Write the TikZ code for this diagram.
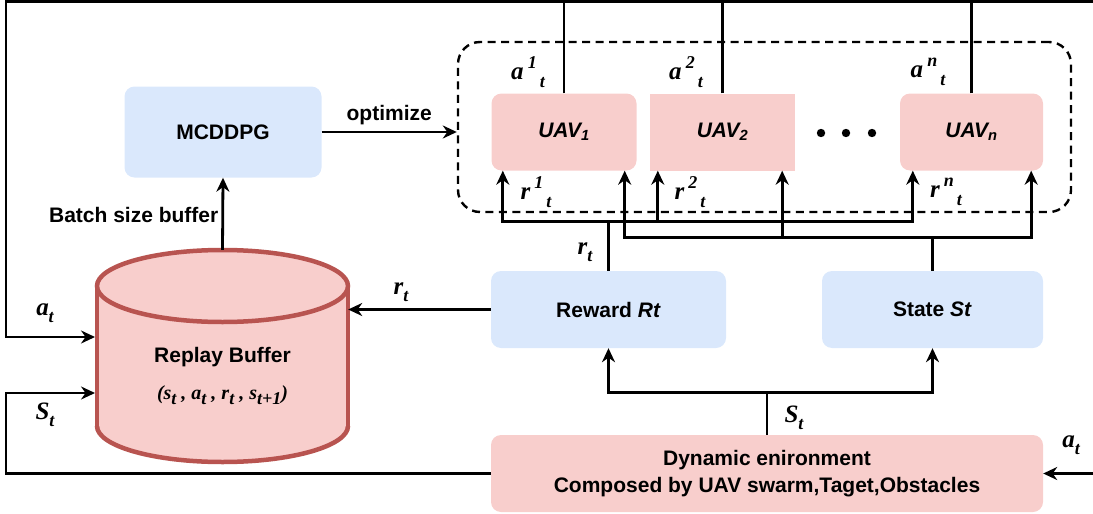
\documentclass[tikz,border=0pt]{standalone}
\usepackage{fontspec}
\setmainfont{Liberation Sans}
\newfontfamily\tms{Liberation Serif}
\usetikzlibrary{arrows.meta}
\definecolor{pinkF}{HTML}{F8CECC}
\definecolor{pinkD}{HTML}{B85450}
\definecolor{blueF}{HTML}{DAE8FC}
\newcommand\sbs[2]{#1\raisebox{-0.28em}{\fontsize{18}{18}\selectfont #2}}
\newcommand\sps[3]{#1\,\raisebox{0.42em}{\fontsize{18}{18}\selectfont #2}\raisebox{-0.32em}{\fontsize{18}{18}\selectfont\,#3}}
\begin{document}
\begin{tikzpicture}[x=1pt,y=-1pt,
  txt/.style={font=\bfseries\fontsize{21}{25}\selectfont},
  lbl/.style={font=\tms\bfseries\itshape\fontsize{25}{26}\selectfont, inner sep=0pt},
  bluebox/.style={fill=blueF, rounded corners=10pt, inner sep=0pt, txt},
  pinkbox/.style={fill=pinkF, rounded corners=10pt, inner sep=0pt, txt},
  conn/.style={line width=2.8pt, draw=black},
  arr/.style={conn, -{Stealth[length=14pt,width=13pt]}},
]
\useasboundingbox (0,0) rectangle (1093,514);

% nodes
\node[bluebox, minimum width=197pt, minimum height=91pt] (mc) at (223,132) {MCDDPG};
\node[pinkbox, minimum width=145pt, minimum height=77pt] (uav1) at (564,132) {\textit{UAV\textsubscript{1}}};
\node[pinkbox, rounded corners=0pt, minimum width=145pt, minimum height=77pt] (uav2) at (722.5,132) {\textit{UAV\textsubscript{2}}};
\node[pinkbox, minimum width=143pt, minimum height=77pt] (uavn) at (971.5,132) {\textit{UAV\textsubscript{n}}};
\node[draw, line width=2.4pt, dash pattern=on 8pt off 5.5pt, rounded corners=22pt, minimum width=613pt, minimum height=170pt, inner sep=0pt] (grp) at (764.5,127) {};
\node[bluebox, minimum width=235pt, minimum height=77pt] (rew) at (608.5,309.5) {Reward \textit{Rt}};
\node[bluebox, minimum width=221pt, minimum height=77pt] (st) at (932.5,309.5) {State \textit{St}};
\node[pinkbox, minimum width=552pt, minimum height=77pt, align=center] (env) at (767,473.5) {Dynamic enironment\\[2pt]Composed by UAV swarm,Taget,Obstacles};

% dots
\foreach \xx/\nm in {821/d1,846/d2,872/d3}
  \fill (\xx,133) circle[radius=4.2pt];

% replay buffer cylinder
\node[minimum width=251pt, minimum height=212pt, inner sep=0pt] (rb) at (222.5,356) {};
\fill[pinkF] (97,286) rectangle (348,426);
\fill[pinkF] (222.5,426) ellipse[x radius=125.5, y radius=36];
\fill[pinkF] (222.5,286) ellipse[x radius=125.5, y radius=36];
\draw[pinkD, line width=4.5pt] (222.5,286) ellipse[x radius=125.5, y radius=36];
\draw[pinkD, line width=4.5pt] (97,286) -- (97,426) (348,286) -- (348,426);
\begin{scope}
  \clip (80,426) rectangle (370,480);
  \draw[pinkD, line width=4.5pt] (222.5,426) ellipse[x radius=125.5, y radius=36];
\end{scope}
\node[txt] (rbt) at (222.5,357) {Replay Buffer};
\node[font=\tms\bfseries\itshape\fontsize{20}{22}\selectfont] (rbtu) at (222.5,395)
  {(\sbs{s}{t} , \sbs{a}{t} , \sbs{r}{t} , \sbs{s}{t+1})};

% coordinates
\coordinate (tl) at (6,1.5);
\coordinate (tr) at (1093,1.5);
\coordinate (rbA) at (95,337);
\coordinate (rbS) at (95,393);
\coordinate (lft) at (6,393);
\coordinate (rgt) at (1093,474);

% top loop
\draw[arr] (tr) -- (tl) |- (rbA);
\draw[conn] (uav1.north) -- (uav1.north |- tl);
\draw[conn] (uav2.north) -- (uav2.north |- tl);
\draw[conn] (uavn.north) -- (uavn.north |- tl);

% optimize
\draw[arr] (mc.east) -- (mc.east -| grp.west) node[midway, above=6pt, txt, inner sep=0pt] {optimize};
% batch
\draw[arr] (rb.north) -- (mc.south) node[midway, left=3pt, txt, inner sep=0pt, yshift=-1pt] {Batch size buffer};
% reward to buffer
\draw[arr] (rew.west) -- (rew.west -| rb.east);
% env to buffer (S_t)
\draw[arr] (env.west) -| (lft) -- (rbS);
% a_t into env
\draw[arr] (env.east -| rgt) -- (env.east);

% env up split
\draw[conn] (env.north) -- ++(0,-42) coordinate (sp);
\draw[arr] (sp) -| (rew.south);
\draw[arr] (sp) -| (st.south);

% buses
\draw[conn] (rew.north) -- ++(0,-49) coordinate (b1);
\draw[conn] (st.north) -- ++(0,-33) coordinate (b2);
\coordinate (A1) at ([xshift=11.5pt]uav1.south west);
\coordinate (A2) at ([xshift=-12pt]uav1.south east);
\coordinate (A3) at ([xshift=8pt]uav2.south west);
\coordinate (A4) at ([xshift=-13pt]uav2.south east);
\coordinate (A5) at ([xshift=13pt]uavn.south west);
\coordinate (A6) at ([xshift=-12pt]uavn.south east);
\draw[arr] (b1) -| (A1);
\draw[arr] (b1) -| (A3);
\draw[arr] (b1) -| (A5);
\draw[arr] (b2) -| (A2);
\draw[arr] (b2) -| (A4);
\draw[arr] (b2) -| (A6);

% labels
\node[lbl] (l1) at (45,313) {\sbs{a}{t}};
\node[lbl] (l2) at (45,415) {\sbs{S}{t}};
\node[lbl] (l3) at (401,292) {\sbs{r}{t}};
\node[lbl] (l4) at (585,252) {\sbs{r}{t}};
\node[lbl] (l5) at (794,418) {\sbs{S}{t}};
\node[lbl] (l6) at (1071,445) {\sbs{a}{t}};
\node[lbl] (a1) at (528,72) {\sps{a}{1}{t}};
\node[lbl] (a2) at (686,72) {\sps{a}{2}{t}};
\node[lbl] (an) at (928,72) {\sps{a}{n}{t}};
\node[lbl] (r1) at (536,192) {\sps{r}{1}{t}};
\node[lbl] (r2) at (690,192) {\sps{r}{2}{t}};
\node[lbl] (rn) at (946,192) {\sps{r}{n}{t}};
\end{tikzpicture}
\end{document}
